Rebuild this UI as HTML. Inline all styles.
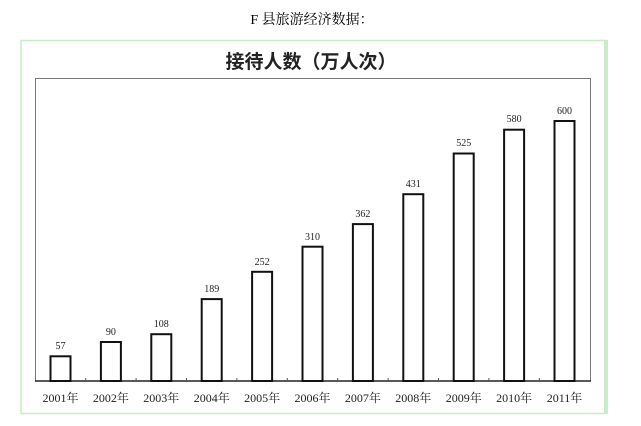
<!DOCTYPE html>
<html><head><meta charset="utf-8"><style>
body{margin:0;background:#fff;}
</style></head><body>
<svg width="641" height="426" xmlns="http://www.w3.org/2000/svg" style="display:block">
<text x="312" y="24" text-anchor="middle" font-family="'Liberation Serif','Noto Serif CJK SC',serif" font-size="14" fill="#000">F 县旅游经济数据：</text>
<rect x="21" y="40.5" width="584" height="373" fill="#fff" stroke="#c8ecc8" stroke-width="1.5"/>
<rect x="604" y="40" width="4" height="374" fill="#c8ecc8"/>
<text x="311" y="68" text-anchor="middle" font-family="'Noto Sans CJK SC',sans-serif" font-weight="bold" font-size="19" fill="#222">接待人数（万人次）</text>
<rect x="35.5" y="78.5" width="555" height="302.5" fill="none" stroke="#777" stroke-width="1"/>
<line x1="35" y1="381" x2="591" y2="381" stroke="#222" stroke-width="1.5"/>
<g stroke="#555" stroke-width="1">
<line x1="85.7" y1="378" x2="85.7" y2="381"/><line x1="136.1" y1="378" x2="136.1" y2="381"/><line x1="186.5" y1="378" x2="186.5" y2="381"/><line x1="236.9" y1="378" x2="236.9" y2="381"/><line x1="287.3" y1="378" x2="287.3" y2="381"/><line x1="337.7" y1="378" x2="337.7" y2="381"/><line x1="388.1" y1="378" x2="388.1" y2="381"/><line x1="438.5" y1="378" x2="438.5" y2="381"/><line x1="488.9" y1="378" x2="488.9" y2="381"/><line x1="539.3" y1="378" x2="539.3" y2="381"/>
</g>
<g fill="#fff" stroke="#111" stroke-width="2">
<rect x="50.5" y="356.3" width="20" height="24.7"/>
<rect x="100.9" y="342" width="20" height="39"/>
<rect x="151.3" y="334.2" width="20" height="46.8"/>
<rect x="201.7" y="299.1" width="20" height="81.9"/>
<rect x="252.1" y="271.8" width="20" height="109.2"/>
<rect x="302.5" y="246.7" width="20" height="134.3"/>
<rect x="352.9" y="224.1" width="20" height="156.9"/>
<rect x="403.3" y="194.2" width="20" height="186.8"/>
<rect x="453.7" y="153.5" width="20" height="227.5"/>
<rect x="504.1" y="129.7" width="20" height="251.3"/>
<rect x="554.5" y="121" width="20" height="260"/>
</g>
<g font-family="'Liberation Serif',serif" font-size="10" fill="#222" text-anchor="middle">
<text x="60.5" y="349">57</text><text x="110.9" y="335">90</text><text x="161.3" y="327">108</text><text x="211.7" y="292">189</text><text x="262.1" y="265">252</text><text x="312.5" y="240">310</text><text x="362.9" y="217">362</text><text x="413.3" y="187">431</text><text x="463.7" y="146">525</text><text x="514.1" y="122">580</text><text x="564.5" y="114">600</text>
</g>
<g font-family="'Liberation Serif','Noto Serif CJK SC',serif" font-size="12" fill="#222" text-anchor="middle">
<text x="60.5" y="402">2001年</text><text x="110.9" y="402">2002年</text><text x="161.3" y="402">2003年</text><text x="211.7" y="402">2004年</text><text x="262.1" y="402">2005年</text><text x="312.5" y="402">2006年</text><text x="362.9" y="402">2007年</text><text x="413.3" y="402">2008年</text><text x="463.7" y="402">2009年</text><text x="514.1" y="402">2010年</text><text x="564.5" y="402">2011年</text>
</g>
</svg>
</body></html>
